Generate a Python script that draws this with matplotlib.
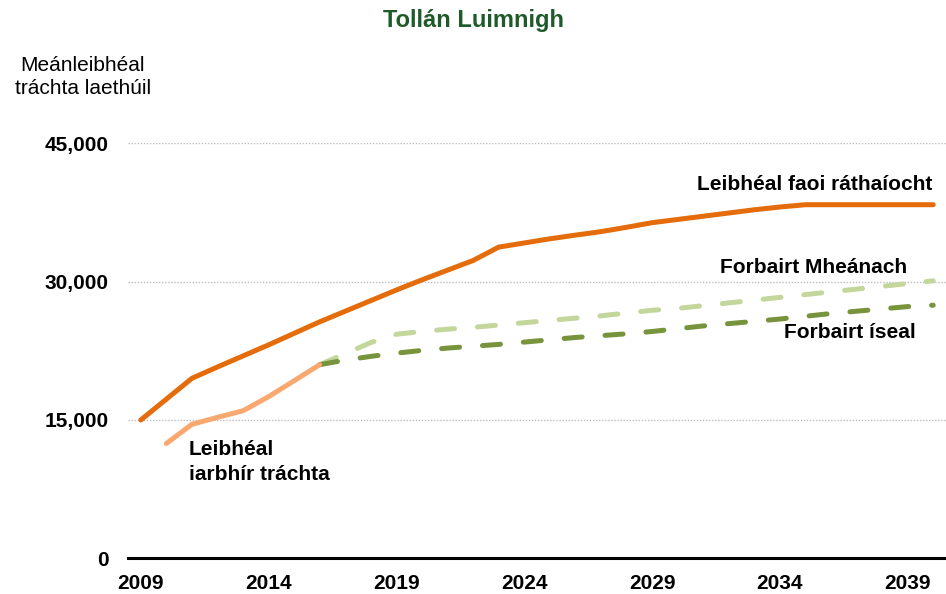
import matplotlib
matplotlib.use("Agg")
import matplotlib.pyplot as plt
from matplotlib.ticker import FuncFormatter

plt.rcParams['font.family'] = ['Liberation Sans', 'DejaVu Sans']

years = list(range(2009, 2041))

guaranteed = [15000, 17260, 19520, 20750, 21950, 23150, 24400, 25650, 26800, 27950,
              29100, 30200, 31250, 32300, 33750, 34200, 34650, 35050, 35430, 35900,
              36400, 36750, 37100, 37450, 37800, 38100, 38350, 38350, 38350, 38350,
              38350, 38350]

actual_years = list(range(2010, 2017))
actual = [12450, 14530, 15290, 16000, 17530, 19260, 21000]

proj_years = list(range(2016, 2041))
medium = [21000, 22200, 23400, 24300, 24600, 24850, 25050, 25300, 25550, 25800,
          26050, 26300, 26600, 26900, 27100, 27400, 27700, 28000, 28300, 28600,
          28900, 29200, 29500, 29800, 30100]
low = [21000, 21500, 21900, 22250, 22550, 22800, 23000, 23200, 23450, 23700,
       23950, 24150, 24350, 24600, 24900, 25200, 25450, 25700, 25950, 26250,
       26550, 26800, 27050, 27300, 27450]

yticks = [0, 15000, 30000, 45000]
xticks = [2009, 2014, 2019, 2024, 2029, 2034, 2039]

title = "Tollán Luimnigh"
ylabel = "Meánleibhéal\ntráchta laethúil"
lbl_guar = "Leibhéal faoi ráthaíocht"
lbl_med = "Forbairt Mheánach"
lbl_low = "Forbairt íseal"
lbl_act = "Leibhéal\niarbhír tráchta"

c_orange = "#E46C0A"
c_lorange = "#F9A870"
c_lgreen = "#C3D69B"
c_dgreen = "#77933C"

fig = plt.figure(figsize=(9.46, 5.94), dpi=100)
ax = fig.add_axes([128/946, 1-558.3/594, 1-128/946, (558.3-143.4)/594])

lw = 3.6
ax.plot(proj_years, medium, color=c_lgreen, lw=lw, dashes=(3.6, 4.6),
        dash_capstyle='round', solid_capstyle='round', zorder=3)
ax.plot(proj_years, low, color=c_dgreen, lw=lw, dashes=(3.6, 4.6),
        dash_capstyle='round', solid_capstyle='round', zorder=3)
ax.plot(actual_years, actual, color=c_lorange, lw=lw,
        solid_capstyle='round', solid_joinstyle='round', zorder=4)
ax.plot(years, guaranteed, color=c_orange, lw=lw,
        solid_capstyle='round', solid_joinstyle='round', zorder=5)

ax.set_xlim(2008.5, 2040.5)
ax.set_ylim(0, 45000)
ax.set_yticks(yticks)
ax.set_xticks(xticks)
ax.yaxis.set_major_formatter(FuncFormatter(lambda v, p: f"{int(v):,}"))
ax.tick_params(axis='both', length=0, labelsize=15)
ax.tick_params(axis='y', pad=14)
ax.tick_params(axis='x', pad=11)
for t in ax.get_xticklabels() + ax.get_yticklabels():
    t.set_fontweight('bold')

for s in ['top', 'right', 'left']:
    ax.spines[s].set_visible(False)
ax.spines['bottom'].set_linewidth(2.2)
ax.spines['bottom'].set_color('black')
ax.spines['bottom'].set_zorder(6)

for v in yticks[1:]:
    ax.axhline(v, color='#BFBFBF', lw=1.0, ls=(0, (1, 1.2)), zorder=1)

tkw = dict(fontsize=15, fontweight='bold', color='black')
ax.text(2039.95, 40490, lbl_guar, ha='right', va='center', **tkw)
ax.text(2038.98, 31490, lbl_med, ha='right', va='center', **tkw)
ax.text(2039.3, 24440, lbl_low, ha='right', va='center', **tkw)
ax.text(2010.89, 10460, lbl_act, ha='left', va='center', linespacing=1.42, **tkw)

fig.text(83/946, 1-77/594, ylabel, ha='center', va='center', fontsize=15,
         linespacing=1.22)
fig.text(473/946, 1-20/594, title, ha='center', va='center', fontsize=17,
         fontweight='bold', color='#1F5A2A')

fig.savefig("out.png", dpi=100)
